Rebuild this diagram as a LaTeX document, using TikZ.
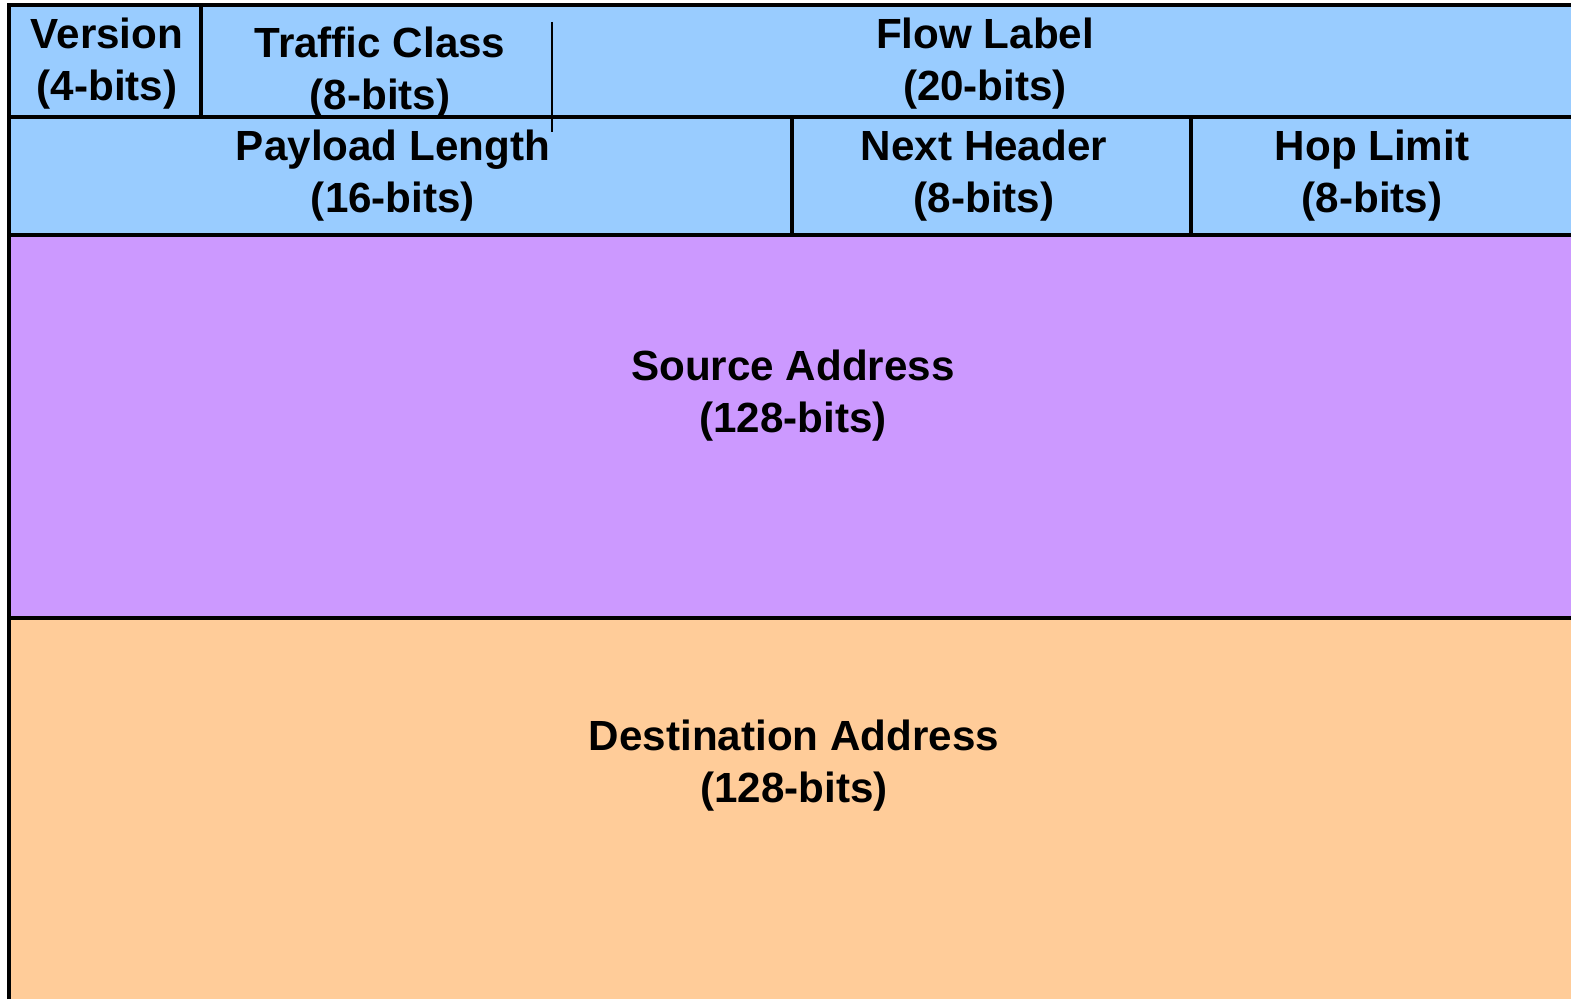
\documentclass[tikz,border=0pt]{standalone}
\usepackage{fontspec}
\setmainfont{Liberation Sans}
\usetikzlibrary{calc}
\definecolor{hdrblue}{RGB}{153,204,255}
\definecolor{srcpurple}{RGB}{204,153,255}
\definecolor{dstorange}{RGB}{255,204,153}

\begin{document}
\begin{tikzpicture}[line width=1.1pt,
    field/.style={align=center, inner sep=0pt, font=\fontsize{12}{14.8}\selectfont\bfseries}]

    \useasboundingbox (0,0) rectangle (15.71,-9.99);

    % fields
    \fill[hdrblue] (0.09,-0.05) rectangle (15.71,-2.35);
    \fill[srcpurple] (0.09,-2.35) rectangle (15.71,-6.18);
    \fill[dstorange] (0.09,-6.18) rectangle (15.71,-9.99);

    % borders
    \draw (0.09,-9.99) -- (0.09,-0.05) -- (15.71,-0.05);
    \draw (0.09,-1.17) -- (15.71,-1.17);
    \draw (0.09,-2.35) -- (15.71,-2.35);
    \draw (0.09,-6.18) -- (15.71,-6.18);
    \draw (2.01,-0.05) -- (2.01,-1.17);
    \draw (7.92,-1.17) -- (7.92,-2.35);
    \draw (11.91,-1.17) -- (11.91,-2.35);
    \draw[line width=0.7pt] (5.52,-0.22) -- (5.52,-1.32);

    \node[field] (version) at (1.07,-0.635) {Version\\(4-bits)};
    \node[field] (traffic) at (3.80,-0.725) {Traffic Class\\(8-bits)};
    \node[field] (flow) at (9.85,-0.635) {Flow Label\\(20-bits)};

    \node[field] (payload) at (3.93,-1.755) {Payload Length\\(16-bits)};
    \node[field] (nexthdr) at (9.84,-1.755) {Next Header\\(8-bits)};
    \node[field] (hoplimit) at (13.72,-1.755) {Hop Limit\\(8-bits)};

    \node[field] (source) at (7.93,-3.955) {Source Address\\(128-bits)};
    \node[field] (dest) at (7.94,-7.655) {Destination Address\\(128-bits)};

\end{tikzpicture}
\end{document}
